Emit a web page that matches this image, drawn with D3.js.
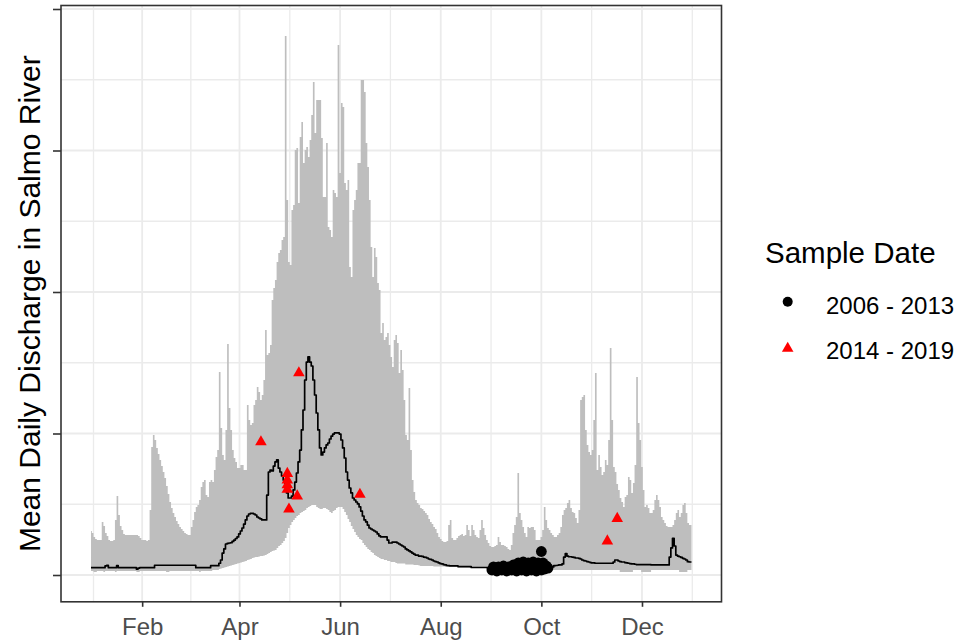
<!DOCTYPE html>
<html>
<head>
<meta charset="utf-8">
<script src="https://cdn.jsdelivr.net/npm/d3@7"></script>
<style>
  body { margin: 0; background: #ffffff; }
  svg text { font-family: "Liberation Sans", Arial, sans-serif; }
</style>
</head>
<body>
<svg id="chart" width="961" height="641"></svg>
<script>
// Daily discharge envelope (max / min over the record) and daily mean, Jan 1 .. Dec 31
const dischargeMax = [
  31.1,29.7,26.9,25.4,24.7,24.7,24.7,37.5,34.6,29.7,
  27.6,24.7,24.0,24.0,24.7,38.9,55.8,42.4,34.6,31.8,
  29.0,28.3,28.3,28.3,28.3,28.3,28.3,28.3,28.3,27.6,
  26.1,24.7,24.7,24.7,24.0,24.7,45.9,90.5,98.9,95.4,
  89.8,85.5,81.3,77.0,72.8,68.6,62.9,57.2,51.6,47.3,
  43.8,41.0,38.2,36.0,33.9,32.5,31.1,29.7,29.0,28.3,
  28.3,33.9,38.9,44.5,48.1,49.5,53.0,62.2,65.7,67.1,
  56.5,55.1,65.7,67.1,65.7,74.2,83.4,88.3,143.5,103.9,
  84.8,81.3,102.5,163.3,118.0,102.5,88.3,82.7,79.9,75.6,
  75.6,77.7,77.7,74.2,74.2,120.1,109.5,106.0,107.4,120.1,
  123.7,132.9,129.3,123.7,127.2,137.8,173.1,155.5,156.9,162.5,
  194.3,202.8,208.5,221.2,227.6,229.7,236.7,238.9,380.9,265.0,
  221.2,219.1,257.9,261.5,300.4,301.8,262.9,309.5,320.1,291.2,
  300.4,302.5,295.4,307.4,325.1,348.4,312.4,335.7,335.7,335.7,
  308.8,267.1,267.1,305.3,245.9,243.8,238.9,272.1,270.0,267.1,
  374.6,284.1,333.6,330.7,277.0,272.1,279.2,217.7,210.6,257.9,
  265.0,272.1,291.2,291.2,349.8,349.8,341.3,305.3,288.3,265.0,
  231.8,210.6,231.1,224.7,206.4,201.4,171.0,178.1,166.1,168.2,
  171.0,162.5,154.1,147.0,166.1,169.6,164.0,142.8,159.0,144.9,
  123.7,98.9,95.4,132.2,88.3,67.1,58.7,53.0,50.9,49.5,
  47.3,46.6,45.2,43.8,42.4,39.6,37.5,36.0,33.9,32.5,
  29.7,26.9,25.4,24.0,23.3,23.3,24.0,35.3,38.9,26.1,
  24.7,24.7,26.1,27.6,28.3,29.0,27.6,28.3,35.3,31.8,
  27.6,35.3,31.8,28.3,26.9,26.1,31.8,38.9,33.2,28.3,
  24.7,22.6,20.5,19.8,19.8,20.5,21.2,26.9,23.3,21.2,
  21.2,20.5,19.8,18.4,17.7,21.2,29.7,35.3,41.0,72.1,
  43.8,38.9,33.9,29.7,26.9,33.9,33.2,33.9,33.9,31.8,
  24.7,24.7,24.7,26.9,31.8,48.1,38.9,33.2,31.8,29.7,
  28.3,26.9,26.9,28.3,29.7,33.9,42.4,45.9,47.3,50.9,
  53.0,47.3,44.5,43.8,40.3,36.7,45.9,123.7,125.8,127.2,
  102.5,91.9,86.9,84.8,88.3,109.5,142.8,74.2,84.8,76.3,
  70.7,72.8,81.3,77.7,95.4,160.4,109.5,76.3,72.8,64.3,
  60.1,54.4,51.6,48.1,55.1,56.5,69.3,67.1,58.0,65.0,
  77.7,139.9,107.4,95.4,76.3,60.1,48.1,49.5,47.3,43.8,
  43.8,45.9,53.0,56.5,53.0,48.1,41.0,38.9,36.7,34.6,
  33.9,33.9,33.9,35.3,38.9,43.8,45.9,41.0,43.8,49.5,
  50.9,43.8,36.7,35.3,35.3
];

const dischargeMin = [
  2.8,2.8,2.1,2.1,2.8,2.8,2.8,2.8,2.1,2.8,
  2.8,2.8,2.8,2.8,2.8,2.1,2.8,2.8,2.8,2.8,
  2.8,2.8,2.8,2.8,2.8,2.8,2.8,2.8,2.1,2.1,
  2.8,2.8,2.8,2.8,2.8,2.8,2.8,2.8,2.8,2.8,
  2.8,2.8,2.8,2.8,2.8,2.8,2.1,2.1,2.8,2.8,
  2.8,2.8,2.8,2.8,2.8,2.8,2.8,2.8,2.8,2.8,
  2.8,2.8,2.8,2.8,2.8,2.8,2.1,2.8,2.8,2.8,
  2.8,2.8,2.8,2.8,3.5,3.5,3.5,3.5,4.2,4.6,
  4.9,5.3,5.7,6.0,6.4,6.7,7.1,7.4,7.8,8.1,
  8.5,8.8,9.2,9.5,9.9,10.6,11.0,11.3,12.0,12.4,
  12.7,12.7,13.1,13.4,13.4,13.8,14.1,14.8,15.5,16.3,
  17.0,17.3,17.7,19.1,20.5,21.2,22.6,24.0,26.1,29.7,
  33.2,35.3,37.5,38.9,40.3,41.7,42.4,43.8,44.5,45.2,
  45.9,47.3,48.1,48.8,49.5,49.5,49.5,48.1,47.3,46.6,
  46.6,47.3,47.3,46.6,45.9,44.5,43.8,45.2,45.9,47.3,
  48.1,48.1,48.1,46.6,44.5,42.4,39.6,37.5,34.6,32.5,
  30.4,28.3,26.9,25.4,24.7,22.6,21.2,19.8,18.4,17.7,
  16.3,15.5,14.1,13.4,12.7,12.0,11.3,11.3,10.6,10.6,
  9.9,9.9,9.2,9.2,9.2,8.5,8.1,8.1,8.1,8.1,
  8.1,7.4,7.4,7.4,7.4,7.4,7.1,7.1,7.1,6.7,
  6.4,6.4,6.4,6.4,6.4,6.4,6.4,6.4,6.0,6.0,
  6.0,6.0,6.0,6.0,6.0,5.7,5.7,5.7,5.7,5.7,
  5.7,5.7,5.7,5.3,5.3,5.3,5.3,5.3,5.3,5.3,
  4.9,4.9,4.9,4.9,4.9,4.9,4.9,4.9,4.9,4.9,
  4.2,4.2,4.2,4.2,4.2,4.2,4.2,4.2,4.2,4.2,
  4.2,4.2,4.2,4.2,4.2,4.2,4.2,4.2,4.2,4.2,
  4.2,4.2,4.2,4.2,4.2,4.2,4.2,4.2,4.2,4.2,
  4.2,4.2,4.2,4.2,4.2,4.2,4.2,4.2,4.2,4.2,
  3.5,3.5,3.5,3.5,3.5,3.5,3.5,3.5,3.5,3.5,
  3.5,3.5,3.5,3.5,3.5,3.5,3.5,3.5,3.5,3.5,
  3.5,3.5,3.5,3.5,3.5,3.5,3.5,3.5,3.5,3.5,
  3.5,3.5,3.5,3.5,3.5,3.5,3.5,3.5,3.5,3.5,
  3.5,2.1,2.1,2.1,2.1,2.1,2.1,2.1,2.1,3.5,
  3.5,3.5,3.5,3.5,2.1,2.1,2.1,2.1,2.1,2.1,
  3.5,3.5,3.5,3.5,3.5,3.5,3.5,3.5,3.5,3.5,
  3.5,3.5,3.5,3.5,3.5,3.5,3.5,2.1,2.1,2.1,
  2.1,2.1,3.5,3.5,3.5
];

const dischargeMean = [
  5.2,5.2,5.2,5.2,5.2,5.2,5.2,5.2,5.2,6.4,
  6.9,5.2,5.2,5.2,5.2,5.2,6.6,5.2,5.2,5.2,
  5.2,5.2,5.2,5.2,5.2,5.2,5.2,5.2,4.2,4.9,
  5.2,5.2,5.2,5.2,5.2,5.2,5.2,5.2,5.2,6.9,
  6.9,6.9,6.9,6.9,6.9,6.9,6.9,6.9,6.9,6.9,
  6.9,6.9,6.9,6.9,6.9,6.9,6.9,6.9,6.9,6.9,
  6.9,6.9,6.9,6.9,5.2,5.2,5.2,5.2,5.2,5.2,
  5.2,5.2,5.2,6.6,6.6,6.6,6.6,6.6,8.3,10.6,
  15.5,18.4,21.9,22.3,22.6,22.8,23.7,24.7,25.8,26.9,
  29.0,31.1,33.2,36.0,38.9,41.7,43.1,43.5,43.6,43.1,
  42.4,41.0,40.3,39.6,38.9,38.9,38.9,56.5,72.8,74.2,
  73.5,77.0,79.9,81.3,75.6,72.8,70.0,67.1,62.2,58.0,
  54.4,54.4,55.8,60.1,65.7,72.1,79.9,88.3,102.5,116.6,
  137.8,150.5,154.1,150.5,147.7,137.8,127.2,114.5,102.5,89.8,
  84.8,86.9,89.8,91.9,93.3,96.1,98.2,99.6,100.4,100.4,
  100.4,99.6,95.4,89.8,82.7,72.8,67.1,61.5,58.0,54.4,
  53.0,51.6,50.2,48.1,45.2,41.7,38.9,37.5,35.3,33.2,
  32.5,31.8,31.1,30.4,29.0,27.6,26.9,26.9,26.9,26.9,
  24.7,22.6,22.6,23.3,23.3,23.3,22.6,21.9,21.2,20.5,
  19.8,18.4,17.7,17.0,16.3,15.5,14.8,14.1,14.1,13.4,
  13.4,13.1,12.7,12.4,12.0,11.3,11.0,10.6,9.9,9.5,
  9.2,8.5,8.1,7.8,7.4,7.1,6.7,6.6,6.4,6.4,
  6.4,6.4,6.4,5.9,5.9,5.9,5.9,5.9,5.9,5.9,
  5.9,5.3,5.3,5.3,5.3,5.3,5.3,5.3,5.3,5.3,
  5.3,4.2,4.2,4.2,4.2,4.2,4.2,4.2,4.2,4.2,
  4.2,4.2,4.2,4.2,4.2,4.2,4.2,4.2,4.2,4.2,
  5.7,5.7,5.7,5.7,5.7,5.7,5.7,5.7,5.7,5.7,
  5.7,5.7,5.7,5.7,5.7,5.7,5.7,5.7,5.7,5.7,
  5.7,6.6,6.7,6.9,7.1,7.1,7.8,12.7,15.2,13.4,
  12.9,12.9,12.7,12.4,12.0,12.0,11.8,11.3,10.6,10.2,
  9.9,9.5,9.2,8.8,8.5,8.5,8.3,8.3,8.3,8.3,
  8.3,8.3,8.3,8.3,8.3,8.3,8.3,9.2,10.6,10.6,
  9.9,9.5,9.2,9.2,8.8,8.5,8.3,8.1,7.8,7.8,
  7.6,7.4,7.4,7.4,7.4,7.4,7.4,7.4,7.4,7.4,
  7.1,7.1,7.1,7.1,7.1,7.1,7.1,7.1,7.1,7.1,
  7.1,12.7,19.1,25.9,20.5,14.1,13.4,12.9,12.4,11.8,
  11.3,10.6,9.4,9.2,9.2
];

// Sampling events: month-day and discharge on that day
const samples0613Dates  = ["09-01","09-02","09-04","09-05","09-07","09-08","09-10","09-11","09-13","09-14",
                           "09-16","09-17","09-19","09-20","09-22","09-23","09-25","09-26","09-28","09-29",
                           "10-01","10-02","10-03","10-04","10-05","10-01"];
const samples0613Values = [3.5,5.7,2.8,5.7,3.5,6.4,2.8,5.7,3.5,7.1,
                           2.8,8.5,3.5,9.2,2.8,8.5,3.5,9.2,2.8,8.5,
                           3.5,8.5,4.2,6.4,4.9,16.6];
const samples1419Dates  = ["04-14","05-07","04-30","04-30","04-30","04-30","05-06","05-01","06-13","11-10","11-16"];
const samples1419Values = [94.0,142.8,71.7,67.1,63.6,60.4,55.8,46.6,56.9,24.0,39.9];

const monthTicks   = ["02-01","04-01","06-01","08-01","10-01","12-01"];
const yTickValues  = [0, 100, 200, 300, 400];
const legendLabels = ["2006 - 2013", "2014 - 2019"];
const legendTitle  = "Sample Date";
const yTitle       = "Mean Daily Discharge in Salmo River";

const parseMD = d3.utcParse("%m-%d");
const jan1 = parseMD("01-01");
const dec31 = parseMD("12-31");

const daily = dischargeMax.map((mx, i) => ({
  date: d3.utcDay.offset(jan1, i),
  max: mx, min: dischargeMin[i], mean: dischargeMean[i]
}));
const pts0613 = samples0613Dates.map((d, i) => ({ date: parseMD(d), value: samples0613Values[i] }));
const pts1419 = samples1419Dates.map((d, i) => ({ date: parseMD(d), value: samples1419Values[i] }));

// Panel geometry
const panel = { left: 61, right: 721.5, top: 5.5, bottom: 601.8 };
const padDays = 364 * 0.05;

const x = d3.scaleUtc()
  .domain([jan1.getTime() - padDays * 864e5, dec31.getTime() + padDays * 864e5])
  .range([panel.left, panel.right]);
const y = d3.scaleLinear()
  .domain([-18.94, 402.47])
  .range([panel.bottom, panel.top]);

const svg = d3.select("#chart");
svg.append("rect").attr("width", 961).attr("height", 641).attr("fill", "#ffffff");

// Grid: majors at the ticks, minors half-way between them
const grid = svg.append("g");
const tickDates = monthTicks.map(parseMD);
const majorX = tickDates.map(d => x(d));
const minorX = [];
minorX.push(majorX[0] - (majorX[1] - majorX[0]) / 2);
for (let i = 0; i < majorX.length - 1; i++) minorX.push((majorX[i] + majorX[i + 1]) / 2);
minorX.push(majorX[majorX.length - 1] + (majorX[majorX.length - 1] - majorX[majorX.length - 2]) / 2);
const majorY = yTickValues.map(v => y(v));
const minorY = yTickValues.slice(0, -1).map((v, i) => y((v + yTickValues[i + 1]) / 2));

grid.selectAll("line.minx").data(minorX).join("line")
  .attr("x1", d => d).attr("x2", d => d).attr("y1", panel.top).attr("y2", panel.bottom)
  .attr("stroke", "#ebebeb").attr("stroke-width", 1.3);
grid.selectAll("line.miny").data(minorY).join("line")
  .attr("y1", d => d).attr("y2", d => d).attr("x1", panel.left).attr("x2", panel.right)
  .attr("stroke", "#ebebeb").attr("stroke-width", 1.3);
grid.selectAll("line.majx").data(majorX).join("line")
  .attr("x1", d => d).attr("x2", d => d).attr("y1", panel.top).attr("y2", panel.bottom)
  .attr("stroke", "#ebebeb").attr("stroke-width", 1.8);
grid.selectAll("line.majy").data(majorY).join("line")
  .attr("y1", d => d).attr("y2", d => d).attr("x1", panel.left).attr("x2", panel.right)
  .attr("stroke", "#ebebeb").attr("stroke-width", 1.8);

// Envelope ribbon
const ribbon = d3.area()
  .curve(d3.curveStep)
  .x(d => x(d.date))
  .y0(d => y(d.min))
  .y1(d => y(d.max));
svg.append("path").datum(daily).attr("d", ribbon).attr("fill", "#bebebe");

// Daily mean
const meanLine = d3.line().curve(d3.curveStep).x(d => x(d.date)).y(d => y(d.mean));
svg.append("path").datum(daily).attr("d", meanLine)
  .attr("fill", "none").attr("stroke", "#000000").attr("stroke-width", 1.7)
  .attr("stroke-linejoin", "round");

// Sample points
const triSym = d3.symbol().type(d3.symbolTriangle).size(58);
svg.append("g").selectAll("circle").data(pts0613).join("circle")
  .attr("cx", d => x(d.date)).attr("cy", d => y(d.value)).attr("r", 5.4)
  .attr("fill", "#000000");
svg.append("g").selectAll("path").data(pts1419).join("path")
  .attr("d", triSym)
  .attr("transform", d => `translate(${x(d.date)},${y(d.value)})`)
  .attr("fill", "#ff0000");

// Panel border
svg.append("rect")
  .attr("x", panel.left).attr("y", panel.top)
  .attr("width", panel.right - panel.left).attr("height", panel.bottom - panel.top)
  .attr("fill", "none").attr("stroke", "#333333").attr("stroke-width", 1.6);

// Axes
const xAxis = d3.axisBottom(x).tickValues(tickDates).tickFormat(d3.utcFormat("%b"))
  .tickSize(5).tickPadding(11);
const gx = svg.append("g").attr("transform", `translate(0,${panel.bottom})`).call(xAxis);
gx.select(".domain").remove();
gx.selectAll(".tick line").attr("stroke", "#333333").attr("stroke-width", 1.6);
gx.selectAll(".tick text").attr("fill", "#4d4d4d").style("font-size", "24px");

const yAxis = d3.axisLeft(y).tickValues(yTickValues).tickFormat("").tickSize(8);
const gy = svg.append("g").attr("transform", `translate(${panel.left},0)`).call(yAxis);
gy.select(".domain").remove();
gy.selectAll(".tick line").attr("stroke", "#333333").attr("stroke-width", 1.6);

// Y axis title
svg.append("text")
  .attr("transform", `translate(40,${(panel.top + panel.bottom) / 2}) rotate(-90)`)
  .attr("text-anchor", "middle")
  .attr("fill", "#000000")
  .style("font-size", "30px")
  .text(yTitle);

// Legend
const legend = svg.append("g");
legend.append("text").attr("x", 765).attr("y", 263).style("font-size", "29.5px")
  .attr("fill", "#000000").text(legendTitle);
legend.append("circle").attr("cx", 787.7).attr("cy", 301.7).attr("r", 5).attr("fill", "#000000");
legend.append("path").attr("d", triSym).attr("transform", "translate(787.7,348.5)").attr("fill", "#ff0000");
legend.selectAll("text.lab").data(legendLabels).join("text")
  .attr("class", "lab")
  .attr("x", 826).attr("y", (d, i) => 314 + i * 44.5)
  .style("font-size", "24px").attr("fill", "#000000")
  .text(d => d);
</script>
</body>
</html>
